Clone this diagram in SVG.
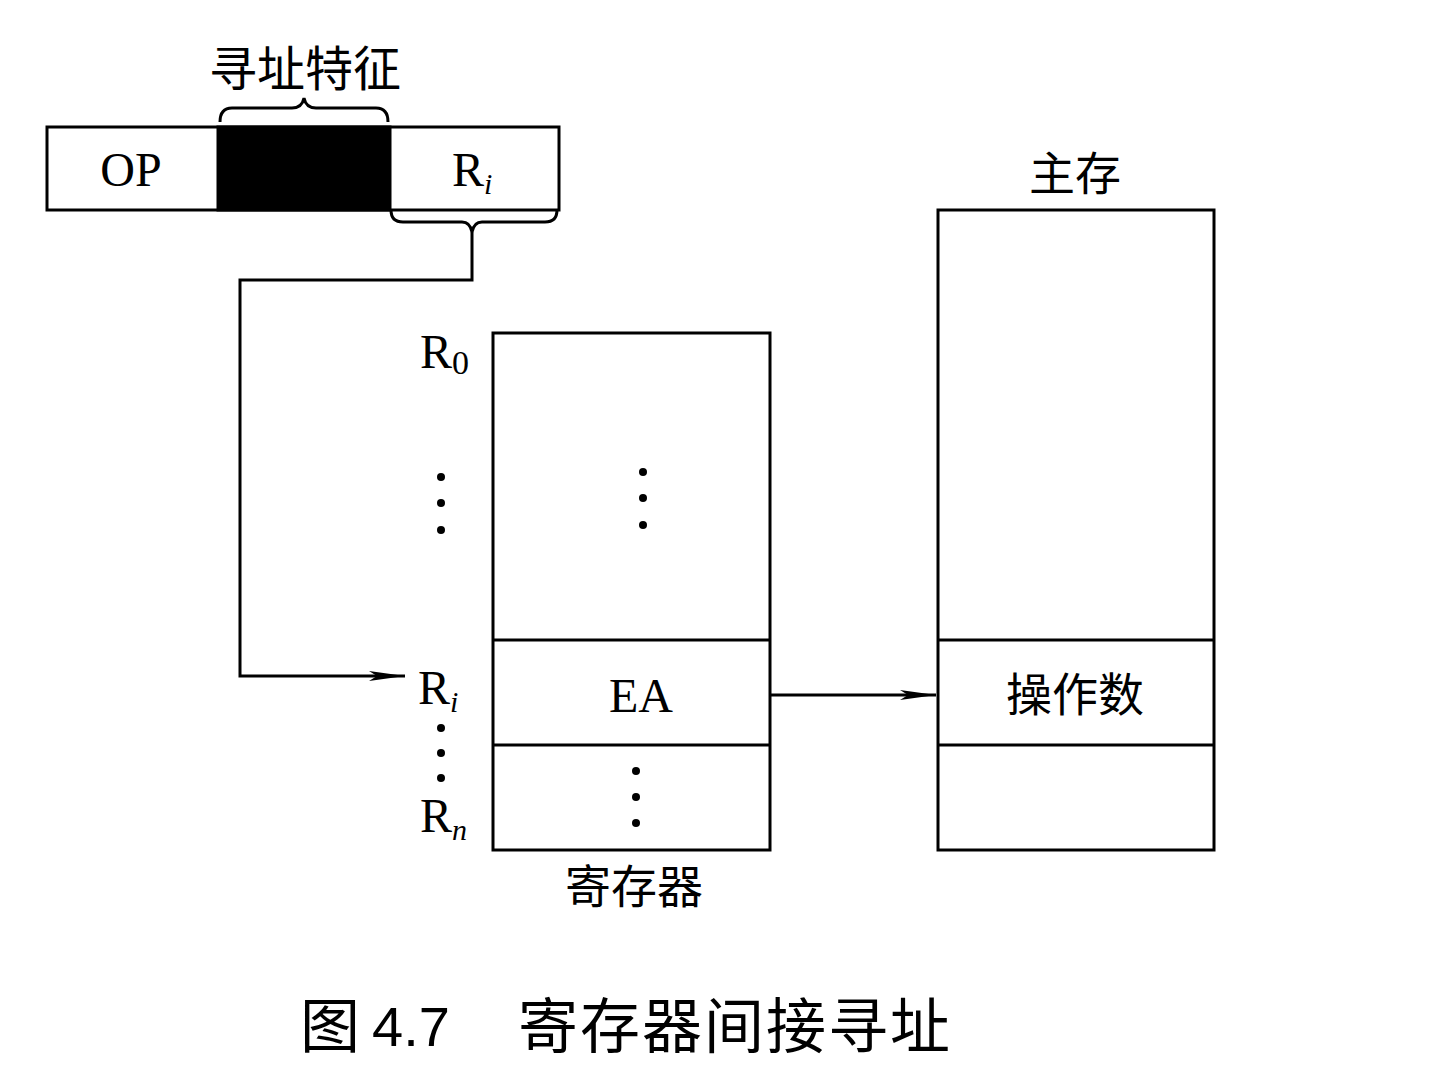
<svg xmlns="http://www.w3.org/2000/svg" width="1434" height="1084" viewBox="0 0 1434 1084">
<style>
.box{fill:#fff;stroke:#000;stroke-width:3}
.ln{fill:none;stroke:#000;stroke-width:3}
.lat{font-family:"Liberation Serif",serif;fill:#000}
.cjk{font-family:"Noto Sans CJK SC",sans-serif;fill:#000}
.sans{font-family:"Liberation Sans",sans-serif;fill:#000}
.dot{fill:#000}
</style>
<defs>
<marker id="ah" markerWidth="36" markerHeight="12" refX="36" refY="6" orient="auto" markerUnits="userSpaceOnUse">
<path d="M0,1 L36,6 L0,11 L8,6 Z" fill="#000"/>
</marker>
</defs>
<rect width="1434" height="1084" fill="#fff"/>

<g id="instruction">
<rect class="box" x="47" y="127" width="512" height="83"/>
<rect x="218" y="127" width="172" height="83" fill="#000" stroke="#000" stroke-width="3"/>
<text class="lat" x="131" y="186" font-size="48" text-anchor="middle">OP</text>
<text class="lat" x="452" y="186" font-size="48">R<tspan font-size="30" font-style="italic" dy="8">i</tspan></text>
</g>

<g id="brace-top">
<path class="ln" d="M220,122 Q220,108 232,108 L292,108 Q302,108 304,98 Q306,108 316,108 L376,108 Q388,108 388,122"/>
<text class="cjk" x="305" y="86" font-size="48" text-anchor="middle">寻址特征</text>
</g>

<g id="registers">
<rect class="box" x="493" y="333" width="277" height="517"/>
<line class="ln" x1="493" y1="640" x2="770" y2="640"/>
<line class="ln" x1="493" y1="745" x2="770" y2="745"/>
<text class="lat" x="641" y="712" font-size="48" text-anchor="middle">EA</text>
<circle class="dot" cx="643" cy="472" r="4"/><circle class="dot" cx="643" cy="498" r="4"/><circle class="dot" cx="643" cy="525" r="4"/>
<circle class="dot" cx="636" cy="771" r="4"/><circle class="dot" cx="636" cy="797" r="4"/><circle class="dot" cx="636" cy="823" r="4"/>
<text class="lat" x="420" y="368" font-size="48">R<tspan font-size="34" dy="6">0</tspan></text>
<circle class="dot" cx="441" cy="477" r="4"/><circle class="dot" cx="441" cy="503" r="4"/><circle class="dot" cx="441" cy="530" r="4"/>
<text class="lat" x="418" y="704" font-size="48">R<tspan font-size="30" font-style="italic" dy="8">i</tspan></text>
<circle class="dot" cx="441" cy="728" r="4"/><circle class="dot" cx="441" cy="753" r="4"/><circle class="dot" cx="441" cy="778" r="4"/>
<text class="lat" x="420" y="832" font-size="48">R<tspan font-size="30" font-style="italic" dy="8">n</tspan></text>
<text class="cjk" x="634" y="903" font-size="46" text-anchor="middle">寄存器</text>
</g>

<g id="memory">
<rect class="box" x="938" y="210" width="276" height="640"/>
<line class="ln" x1="938" y1="640" x2="1214" y2="640"/>
<line class="ln" x1="938" y1="745" x2="1214" y2="745"/>
<text class="cjk" x="1075" y="190" font-size="46" text-anchor="middle">主存</text>
<text class="cjk" x="1075" y="711" font-size="46" text-anchor="middle">操作数</text>
</g>

<g id="connectors">
<path class="ln" d="M391,210 Q391,222 403,222 L462,222 Q470,222 472,232 Q474,222 482,222 L545,222 Q557,222 557,210"/>
<path class="ln" d="M472,232 L472,280 L240,280 L240,676 L405,676" marker-end="url(#ah)"/>
<path class="ln" d="M770,695 L936,695" marker-end="url(#ah)"/>
</g>

<g id="caption">
<text class="cjk" x="300" y="1048" font-size="60">图</text>
<text class="sans" x="372" y="1046" font-size="56">4.7</text>
<text class="cjk" x="518" y="1048" font-size="60" letter-spacing="2">寄存器间接寻址</text>
</g>
</svg>
